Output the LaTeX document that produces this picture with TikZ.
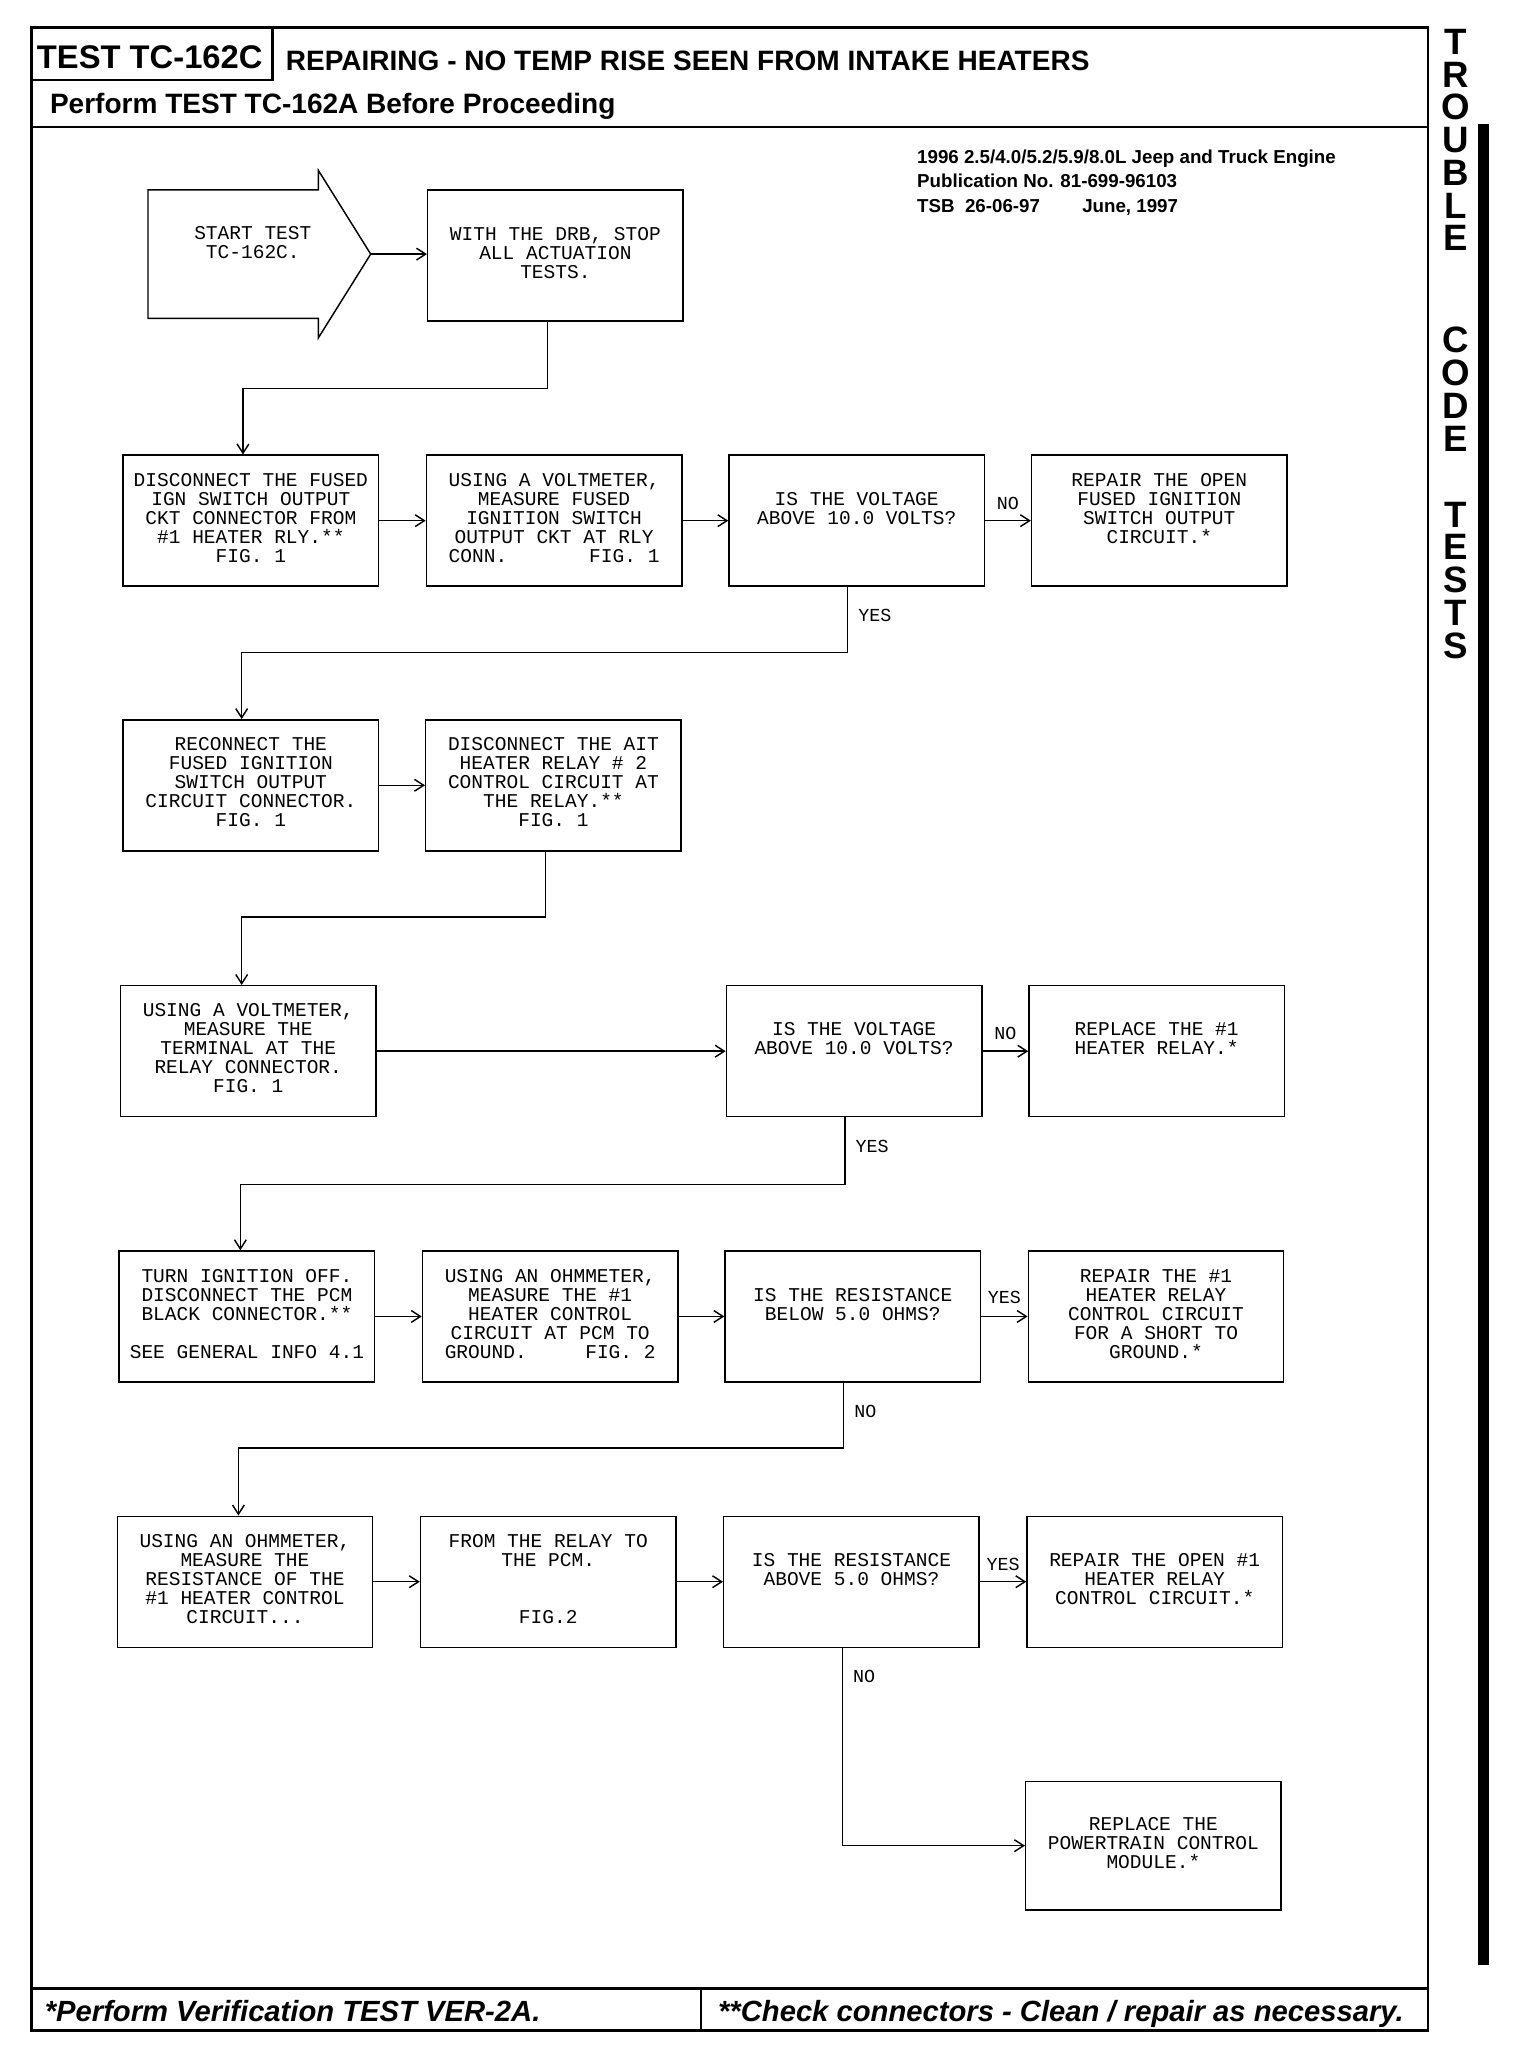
\documentclass[tikz,border=0pt]{standalone}
\usepackage{fontspec}
\setmainfont{Liberation Sans}
\newfontfamily\mono{Liberation Mono}
\usetikzlibrary{arrows.meta,calc}
\begin{document}
\begin{tikzpicture}[x=1pt,y=-1pt,
  boxst/.style={draw, line width=1.1pt, minimum width=195pt, minimum height=100pt, inner sep=0pt, align=center,
     font=\mono\fontsize{14.9}{14.5}\selectfont, execute at begin node=\strut, execute at end node=\strut},
  txtst/.style={inner sep=0pt, align=center, font=\mono\fontsize{14.9}{14.5}\selectfont,
     execute at begin node=\strut, execute at end node=\strut},
  lblst/.style={font=\mono\fontsize{14}{14}\selectfont, inner sep=0pt},
  connst/.style={line width=1.1pt, -{Straight Barb[length=7pt,width=9pt]}},
  frameln/.style={line width=1.8pt},
  hdr/.style={inner sep=0pt, anchor=base west, font=\bfseries\fontsize{21.4}{21.4}\selectfont},
  foot/.style={inner sep=0pt, anchor=base west, font=\bfseries\itshape\fontsize{22.3}{22.3}\selectfont},
  pub/.style={inner sep=0pt, anchor=base west, text height=10.5pt, text depth=1.5pt, font=\bfseries\fontsize{14.3}{18.5}\selectfont},
  side/.style={inner sep=0pt, anchor=north, align=center, font=\bfseries\fontsize{28}{25}\selectfont}]

\fill[white] (0,0) rectangle (1160,1565);
\useasboundingbox (0,0) rectangle (1160,1565);

% frame and header/footer rules
\draw[frameln] (24,21) rectangle (1090,1550);
\draw[frameln] (208,21) -- (208,61) -- (24,61);
\draw[frameln] (24,97) -- (1090,97);
\draw[frameln] (24,1518) -- (1090,1518);
\draw[frameln] (535,1518) -- (535,1550);

\node[inner sep=0pt, anchor=base west, font=\bfseries\fontsize{25}{25}\selectfont] (testid) at (28,52) {TEST TC-162C};
\node[hdr] (title) at (218,54) {REPAIRING - NO TEMP RISE SEEN FROM INTAKE HEATERS};
\node[hdr] (perform) at (38,87) {Perform TEST TC-162A Before Proceeding};

\node[foot] (foot1) at (34,1543) {*Perform Verification TEST VER-2A.};
\node[foot] (foot2) at (548,1543) {**Check connectors - Clean / repair as necessary.};

\node[pub] (pub1) at (700,125) {1996 2.5/4.0/5.2/5.9/8.0L Jeep and Truck Engine};
\node[pub] (pub2) at (700,143.5) {Publication No. 81-699-96103};
\node[pub] (pub3) at (700,162) {TSB\ \ 26-06-97};
\node[pub] (pub4) at (826,162) {June, 1997};

% side tab
\node[side] (sidetab) at (1111,22) {T\\R\\O\\U\\B\\L\\E\\[53pt]C\\O\\D\\E\\[33pt]T\\E\\S\\T\\S};
\fill (1128,95) rectangle (1137,1500);

% start arrow
\draw[line width=1.1pt] (113,145) -- (243,145) -- (243,130) -- (283,194) -- (243,258) -- (243,243) -- (113,243) -- cycle;
\coordinate (starttip) at (283,194);
\node[txtst] (start) at (193,194.5) {START TEST\\TC-162C.\\~};

\node[boxst] (drb) at (424,195) {WITH THE DRB, STOP\\ALL ACTUATION\\TESTS.};

% row 1
\node[boxst] (a1) at (191.5,397.5) {DISCONNECT THE FUSED\\IGN SWITCH OUTPUT\\CKT CONNECTOR FROM\\\#1 HEATER RLY.**\\FIG. 1};
\node[boxst] (a2) at (423,397.5) {USING A VOLTMETER,\\MEASURE FUSED\\IGNITION SWITCH\\OUTPUT CKT AT RLY\\CONN.~~~~~~~FIG.~1};
\node[boxst] (a3) at (654,397.5) {IS THE VOLTAGE\\ABOVE 10.0 VOLTS?\\~};
\node[boxst] (a4) at (885,397.5) {REPAIR THE OPEN\\FUSED IGNITION\\SWITCH OUTPUT\\CIRCUIT.*\\~};

% row 2
\node[boxst] (b1) at (191.5,599.5) {RECONNECT THE\\FUSED IGNITION\\SWITCH OUTPUT\\CIRCUIT CONNECTOR.\\FIG. 1};
\node[boxst] (b2) at (422.5,599.5) {DISCONNECT THE AIT\\HEATER RELAY \# 2\\CONTROL CIRCUIT AT\\THE RELAY.**\\FIG. 1};

% row 3
\node[boxst] (c1) at (189.5,802.5) {USING A VOLTMETER,\\MEASURE THE\\TERMINAL AT THE\\RELAY CONNECTOR.\\FIG. 1};
\node[boxst] (c2) at (652,802.5) {IS THE VOLTAGE\\ABOVE 10.0 VOLTS?\\~};
\node[boxst] (c3) at (883,802.5) {REPLACE THE \#1\\HEATER RELAY.*\\~};

% row 4
\node[boxst] (d1) at (188.5,1005) {TURN IGNITION OFF.\\DISCONNECT THE PCM\\BLACK CONNECTOR.**\\~\\SEE GENERAL INFO 4.1};
\node[boxst] (d2) at (420,1005) {USING AN OHMMETER,\\MEASURE THE \#1\\HEATER CONTROL\\CIRCUIT AT PCM TO\\GROUND.~~~~~FIG.~2};
\node[boxst] (d3) at (651,1005) {IS THE RESISTANCE\\BELOW 5.0 OHMS?\\~};
\node[boxst] (d4) at (882.5,1005) {REPAIR THE \#1\\HEATER RELAY\\CONTROL CIRCUIT\\FOR A SHORT TO\\GROUND.*};

% row 5
\node[boxst] (e1) at (187,1207.5) {USING AN OHMMETER,\\MEASURE THE\\RESISTANCE OF THE\\\#1 HEATER CONTROL\\CIRCUIT...};
\node[boxst] (e2) at (418.5,1207.5) {FROM THE RELAY TO\\THE PCM.\\~\\~\\FIG.2};
\node[boxst] (e3) at (650,1207.5) {IS THE RESISTANCE\\ABOVE 5.0 OHMS?\\~};
\node[boxst] (e4) at (881.5,1207.5) {REPAIR THE OPEN \#1\\HEATER RELAY\\CONTROL CIRCUIT.*};

% row 6
\node[boxst, minimum height=98pt] (f1) at (880.5,1409) {REPLACE THE\\POWERTRAIN CONTROL\\MODULE.*};

% connectors
\draw[connst] (starttip) -- (starttip -| drb.west);
\draw[connst] ([xshift=-6pt]drb.south) -- ++(0,51) -| ([xshift=-6pt]a1.north);
\draw[connst] (a1.east) -- (a2.west);
\draw[connst] (a2.east) -- (a3.west);
\draw[connst] (a3.east) -- node[lblst, above=8pt] (noA) {NO} (a4.west);
\draw[connst] ([xshift=-7pt]a3.south) -- ++(0,50) -| ([xshift=-7pt]b1.north);
\node[lblst, anchor=west] (yesA) at ($([xshift=-7pt]a3.south)+(8,22)$) {YES};

\draw[connst] (b1.east) -- (b2.west);
\draw[connst] ([xshift=-6pt]b2.south) -- ++(0,50) -| ([xshift=-5pt]c1.north);

\draw[connst] (c1.east) -- (c2.west);
\draw[connst] (c2.east) -- node[lblst, above=8pt] (noC) {NO} (c3.west);
\draw[connst] ([xshift=-7pt]c2.south) -- ++(0,51) -| ([xshift=-5pt]d1.north);
\node[lblst, anchor=west] (yesC) at ($([xshift=-7pt]c2.south)+(8,22)$) {YES};

\draw[connst] (d1.east) -- (d2.west);
\draw[connst] (d2.east) -- (d3.west);
\draw[connst] (d3.east) -- node[lblst, above=9pt] (yesD) {YES} (d4.west);
\draw[connst] ([xshift=-7pt]d3.south) -- ++(0,50) -| ([xshift=-5pt]e1.north);
\node[lblst, anchor=west] (noD) at ($([xshift=-7pt]d3.south)+(8,22)$) {NO};

\draw[connst] (e1.east) -- (e2.west);
\draw[connst] (e2.east) -- (e3.west);
\draw[connst] (e3.east) -- node[lblst, above=8pt] (yesE) {YES} (e4.west);
\draw[connst] ([xshift=-7pt]e3.south) |- (f1.west);
\node[lblst, anchor=west] (noE) at ($([xshift=-7pt]e3.south)+(8,22)$) {NO};

\end{tikzpicture}
\end{document}
